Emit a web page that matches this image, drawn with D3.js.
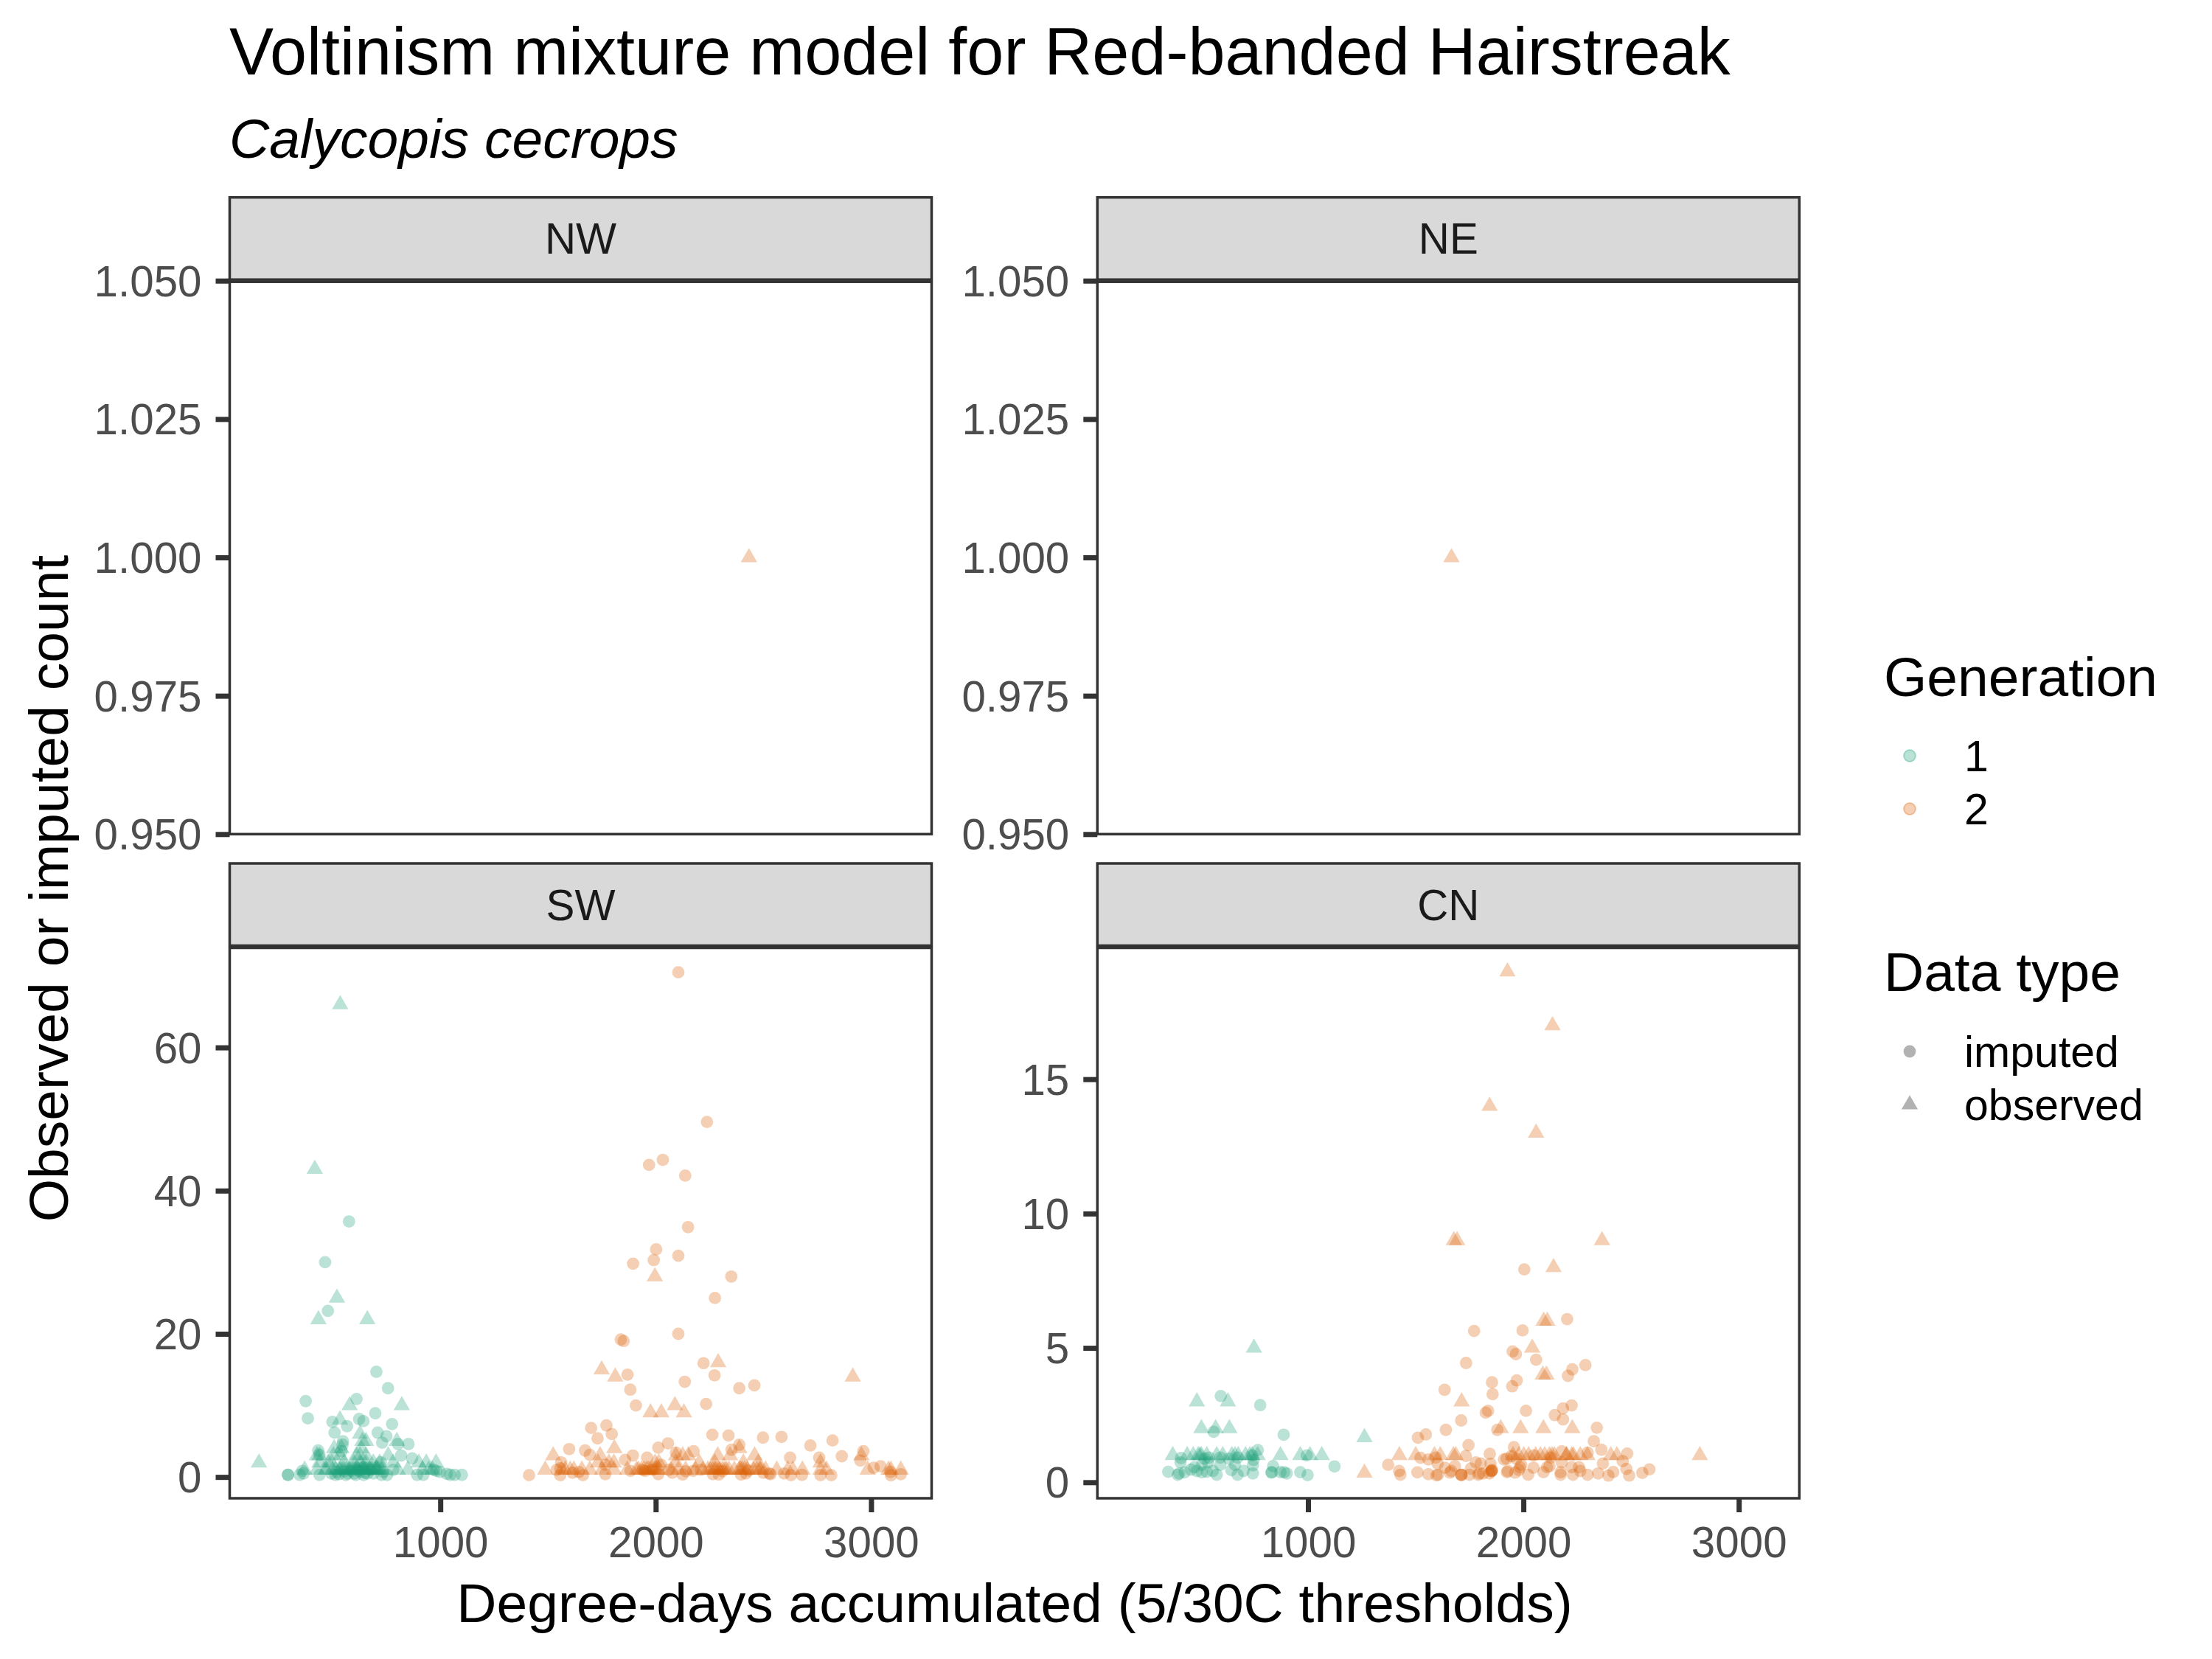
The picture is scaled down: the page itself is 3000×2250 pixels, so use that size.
<!DOCTYPE html>
<html>
<head>
<meta charset="utf-8">
<script src="https://cdn.jsdelivr.net/npm/d3@7"></script>
<style>
  body { margin: 0; background: white; }
  text { font-family: "Liberation Sans", Arial, sans-serif; }
</style>
</head>
<body>
<div id="chart"></div>
<script>
// data: [degree-days, count]
var nwGen2Observed = [[2433, 1]];
var neGen2Observed = [[1666, 1]];

var swGen1Imputed = [[703,14.7],[757,12.4],[375,10.6],[611,10.9],[385,8.2],[698,8.9],[499,7.7],[623,8.1],[643,7.8],[776,7.4],[567,7.1],[509,6.2],[709,6.2],[750,5.7],[730,4.8],[548,5],[852,4.6],[804,4.6],[546,4.5],[433,3.7],[818,3],[439,3.1],[541,3.6],[869,2.6],[724,2.05],[359,.85],[292,.3],[293,.3],[347,.3],[365,.5],[439,.3],[494,.5],[513,.3],[519,.7],[561,.3],[587,.85],[607,.3],[627,.7],[644,.3],[661,.5],[727,.3],[753,.3],[781,1],[892,.3],[921,.3],[981,.85],[998,.7],[1030,.45],[1046,.3],[1067,.3],[1100,.3],[736,.7],[678,1],[644,1.4],[970,1],[576,35.7],[465,30],[478,23.2],[530,.4],[570,.5],[600,.5],[650,.6],[690,.5],[620,.9],[555,.8]];
var swGen1Observed = [[535,66],[417,43],[520,25],[434,22],[661,22],[579,10],[821,10],[534,8],[627,6],[638,5],[655,5],[798,5],[507,4],[541,4],[632,4],[427,3],[504,3],[610,3],[627,3],[655,3],[758,3],[439,3],[536,3],[439,2],[479,2],[496,2],[553,2],[598,2],[627,2],[655,2],[689,2],[718,2],[781,2],[900,2],[935,2],[980,2],[370,1],[427,1],[467,1],[501,1],[536,1],[581,1],[610,1],[632,1],[672,1],[695,1],[712,1],[803,1],[849,1],[917,1],[946,1],[963,1],[513,1],[553,1],[564,1],[598,1],[621,1],[644,1],[655,1],[678,1],[701,1],[724,1],[158,2],[470,1],[530,1],[545,1],[575,1],[590,1],[605,1],[615,1],[640,1],[650,1],[665,1],[685,1],[705,1],[730,1]];
var swGen2Imputed = [[2105,70.5],[2238,49.6],[2033,44.3],[1969,43.6],[2137,42.1],[2150,34.9],[2002,31.8],[1991,30.3],[2105,30.9],[1895,29.8],[2351,28],[2275,25],[2105,20],[1838,19.2],[1851,19],[2222,15.9],[1869,14.3],[2273,14.2],[2135,13.3],[2458,12.8],[2388,12.4],[1882,12.2],[2234,10.2],[1908,10],[1700,6.85],[1771,7.2],[1730,5.4],[1796,6],[2012,4.1],[2057,4.7],[1598,3.9],[1672,3.7],[1694,3.1],[1561,2.05],[2263,5.9],[2094,3.4],[2176,3.6],[1894,3],[1960,2.7],[1858,2.4],[1766,1.7],[1412,.26],[1557,.26],[1614,.6],[1662,.26],[1766,.4],[1883,.85],[1951,.85],[2012,.4],[2077,.6],[2125,.35],[2174,.85],[2265,.4],[2293,.35],[1540,1],[1557,1.2],[1643,.7],[2025,1.7],[2060,1],[2338,5.8],[2498,5.5],[2584,5.6],[2718,4.4],[2821,5.1],[2388,4.5],[2352,3.8],[2624,2.7],[2759,2.7],[2864,2.9],[2964,3.6],[2950,2.3],[3012,1.3],[3044,1.5],[3090,.7],[3138,.4],[3092,.25],[2765,.26],[2815,.26],[2679,.3],[2628,.26],[2596,.5],[2533,.4],[2527,.5],[2499,.6],[2419,.5],[2396,.35],[1940,1],[1985,1],[2140,.8],[2210,1],[2310,.8],[2430,.9]];
var swGen2Observed = [[1996,28],[2290,16],[1749,15],[1812,14],[2915,14],[2089,10],[1976,9],[2026,9],[2131,9],[1808,4],[2388,4],[1524,3],[1742,3],[2094,3],[2125,3],[2151,3],[2288,3],[2345,3],[2459,3],[2955,3],[1732,2],[1783,2],[1806,2],[1997,2],[2014,2],[2094,2],[2202,2],[2274,2],[2407,2],[2476,2],[2765,2],[1487,1],[1563,1],[1580,1],[1603,1],[1620,1],[1657,1],[1694,1],[1751,1],[1806,1],[1868,1],[1911,1],[1934,1],[1957,1],[1974,1],[1997,1],[2014,1],[2071,1],[2105,1],[2139,1],[2185,1],[2219,1],[2242,1],[2253,1],[2265,1],[2274,1],[2299,1],[2310,1],[2328,1],[2365,1],[2388,1],[2402,1],[2413,1],[2453,1],[2470,1],[2482,1],[2487,1],[2510,1],[2562,1],[2613,1],[2636,1],[2681,1],[2765,1],[2793,1],[2984,1],[3081,1],[3092,1],[3138,1],[1920,1],[1945,1],[1965,1],[1985,1],[2005,1],[2280,1],[2292,1],[2320,1],[2340,1],[2395,1],[2425,1]];

var cnGen1Imputed = [[595,3.21],[778,2.87],[562,1.88],[887,1.77],[767,1.2],[994,1],[410,.9],[408,.74],[1123,.59],[838,.6],[351,.39],[395,.28],[402,.33],[427,.37],[473,.56],[456,.47],[484,.42],[507,.37],[507,.65],[536,.74],[530,.39],[558,.42],[576,.28],[593,.65],[633,.88],[644,.45],[661,.65],[673,.28],[701,.42],[744,.33],[744,.63],[747,.83],[541,.92],[519,.88],[593,.92],[673,.92],[741,1],[830,.36],[832,.375],[872,.375],[889,.375],[901,.33],[964,.375],[998,.27]];
var cnGen1Observed = [[749,5],[484,3],[628,3],[505,2],[571,2],[635,2],[372,1],[439,1],[490,1],[505,1],[530,1],[576,1],[604,1],[646,1],[661,1],[676,1],[710,1],[730,1],[741,1],[766,1],[872,1],[964,1],[1009,1],[1064,1],[498,1],[467,1],[1262,1.67]];
var cnGen2Imputed = [[2004,7.92],[2203,6.07],[1771,5.63],[1996,5.65],[1950,4.87],[1965,4.77],[2059,4.56],[1734,4.44],[2288,4.36],[2227,4.2],[2207,3.96],[1969,3.79],[1948,3.57],[1854,3.72],[1634,3.44],[1857,3.28],[1836,2.66],[1825,2.59],[2012,2.66],[2224,2.86],[2184,2.75],[2146,2.5],[2184,2.34],[1711,2.3],[1879,1.95],[1640,1.95],[1547,1.78],[1510,1.66],[1745,1.38],[1956,1.31],[1733,.98],[1844,1.06],[2178,1.15],[2341,2.03],[2327,1.53],[1372,.65],[1423,.42],[1429,.28],[1508,.37],[1559,.3],[1596,.26],[1604,.28],[1522,.91],[1559,.85],[1593,.92],[1602,.69],[1636,.54],[1665,.42],[1659,.36],[1682,.6],[1711,.28],[1712,.27],[1713,.28],[1750,.28],[1756,.51],[1779,.74],[1802,.7],[1790,.28],[1796,.33],[1813,.33],[1842,.33],[1851,.42],[1851,.41],[1853,.43],[1855,.46],[1847,.69],[1910,.85],[1924,.375],[1927,.42],[1962,.36],[1979,.46],[1984,.56],[1990,.65],[2022,.28],[2047,.54],[2093,.375],[2110,.56],[2121,.6],[2173,.28],[2173,.375],[2178,.74],[2230,.28],[2224,.56],[2258,.56],[2264,.42],[2298,.28],[1922,.88],[1944,.97],[1967,.88],[2047,1],[2127,.92],[2298,1.1],[2362,1.21],[2482,1.07],[2461,.79],[2369,.7],[2478,.5],[2585,.48],[2552,.35],[2491,.25],[2417,.38],[2395,.25],[2347,.33]];
var cnGen2Observed = [[1926,19],[2135,17],[1843,14],[2059,13],[1677,9],[1692,9],[2365,9],[2140,8],[2094,6],[2111,6],[2041,5],[2090,4],[2107,4],[1713,3],[1895,2],[1987,2],[2093,2],[2227,2],[1262,.35],[2819,1],[1424,1],[1500,1],[1587,1],[1614,1],[1675,1],[1686,1],[1952,1],[1979,1],[2002,1],[2024,1],[2057,1],[2079,1],[2099,1],[2121,1],[2133,1],[2144,1],[2199,1],[2201,1],[2224,1],[2232,1],[2264,1],[2297,1],[2406,1],[2434,1]];

var xTicks = [1000, 2000, 3000];
var yTicksTop = [0.95, 0.975, 1, 1.025, 1.05];
var yTicksSW = [0, 20, 40, 60];
var yTicksCN = [0, 5, 10, 15];
var generationLabels = ["1", "2"];
var typeLabels = ["imputed", "observed"];

// setup
var w = 3000;
var h = 2250;
var colors = ["#1B9E77", "#D95F02"];
var alpha = 0.3;
var ink = "#333333";
var tickLen = 19;

var svg = d3.select("#chart").append("svg")
    .attr("width", w)
    .attr("height", h)
    .attr("viewBox", "0 0 " + w + " " + h)
    .style("display", "block")
    .style("background", "white");

var triangle = d3.symbol().type(d3.symbolTriangle).size(215);

var x0 = 311.5, x1 = 1488.3, pw = 952;

var panels = [
  {name: "NW", left: x0, strip: 267.7, top: 380.7, bottom: 1131.3, domain: [0.95, 1.05], ticks: yTicksTop, fmt: d3.format(".3f"), xaxis: false,
    series: [[nwGen2Observed, 1, "t"]]},
  {name: "NE", left: x1, strip: 267.7, top: 380.7, bottom: 1131.3, domain: [0.95, 1.05], ticks: yTicksTop, fmt: d3.format(".3f"), xaxis: false,
    series: [[neGen2Observed, 1, "t"]]},
  {name: "SW", left: x0, strip: 1171, top: 1284, bottom: 2032, domain: [-2.97, 74.07], ticks: yTicksSW, fmt: d3.format("d"), xaxis: true,
    series: [[swGen1Imputed, 0, "c"], [swGen1Observed, 0, "t"], [swGen2Imputed, 1, "c"], [swGen2Observed, 1, "t"]]},
  {name: "CN", left: x1, strip: 1171, top: 1284, bottom: 2032, domain: [-0.595, 19.93], ticks: yTicksCN, fmt: d3.format("d"), xaxis: true,
    series: [[cnGen1Imputed, 0, "c"], [cnGen1Observed, 0, "t"], [cnGen2Imputed, 1, "c"], [cnGen2Observed, 1, "t"]]}
];

panels.forEach(function(p) {
  var x = d3.scaleLinear().domain([22, 3281]).range([p.left, p.left + pw]);
  var y = d3.scaleLinear().domain(p.domain).range([p.bottom, p.top]);
  var g = svg.append("g").attr("class", "panel");

  // points
  p.series.forEach(function(s) {
    var marks = g.append("g").attr("fill", colors[s[1]]).attr("fill-opacity", alpha);
    if (s[2] == "c") {
      marks.selectAll("circle").data(s[0]).join("circle")
        .attr("cx", function(d) { return x(d[0]); })
        .attr("cy", function(d) { return y(d[1]); })
        .attr("r", 8.4);
    } else {
      marks.selectAll("path").data(s[0]).join("path")
        .attr("d", triangle)
        .attr("transform", function(d) { return "translate(" + x(d[0]) + "," + y(d[1]) + ")"; });
    }
  });

  // strip and border
  g.append("rect")
    .attr("x", p.left).attr("y", p.strip)
    .attr("width", pw).attr("height", p.top - p.strip - 1.5)
    .attr("fill", "#D9D9D9").attr("stroke", ink).attr("stroke-width", 3.5);
  g.append("text")
    .attr("x", p.left + pw / 2)
    .attr("y", (p.strip + p.top) / 2 + 20)
    .attr("text-anchor", "middle")
    .attr("font-size", 58.3)
    .attr("fill", "#1A1A1A")
    .text(p.name);
  g.append("rect")
    .attr("x", p.left).attr("y", p.top + 1.5)
    .attr("width", pw).attr("height", p.bottom - p.top - 1.5)
    .attr("fill", "none").attr("stroke", ink).attr("stroke-width", 3.5);

  // axes
  var ya = g.append("g")
    .attr("transform", "translate(" + p.left + ",0)")
    .call(d3.axisLeft(y).tickValues(p.ticks).tickFormat(p.fmt).tickSize(tickLen).tickPadding(19));
  styleAxis(ya);
  ya.selectAll("text").attr("dy", "0.35em");
  if (p.xaxis) {
    var xa = g.append("g")
      .attr("transform", "translate(0," + p.bottom + ")")
      .call(d3.axisBottom(x).tickValues(xTicks).tickFormat(d3.format("d")).tickSize(tickLen).tickPadding(20));
    styleAxis(xa);
  }
});

function styleAxis(a) {
  a.select(".domain").remove();
  a.selectAll("line").attr("stroke", ink).attr("stroke-width", 7);
  a.selectAll("text")
    .attr("fill", "#4D4D4D")
    .attr("font-size", 58.3)
    .style("font-family", '"Liberation Sans", Arial, sans-serif');
}

// titles
svg.append("text").attr("x", 311).attr("y", 101).attr("font-size", 90).attr("fill", "black")
  .text("Voltinism mixture model for Red-banded Hairstreak");
svg.append("text").attr("x", 311).attr("y", 214).attr("font-size", 75).attr("font-style", "italic").attr("fill", "black")
  .text("Calycopis cecrops");
svg.append("text").attr("x", 1376).attr("y", 2200).attr("text-anchor", "middle").attr("font-size", 75).attr("fill", "black")
  .text("Degree-days accumulated (5/30C thresholds)");
svg.append("text").attr("text-anchor", "middle").attr("font-size", 75).attr("fill", "black")
  .attr("transform", "translate(92,1205) rotate(-90)")
  .text("Observed or imputed count");

// legends
var lx = 2555, kx = 2590, tx = 2664;
svg.append("text").attr("x", lx).attr("y", 943.5).attr("font-size", 75).text("Generation");
svg.append("text").attr("x", lx).attr("y", 1344).attr("font-size", 75).text("Data type");

var genY = d3.scalePoint().domain(generationLabels).range([1025, 1097]);
var typeY = d3.scalePoint().domain(typeLabels).range([1426, 1498]);

generationLabels.forEach(function(d, i) {
  svg.append("circle").attr("cx", kx).attr("cy", genY(d)).attr("r", 8)
    .attr("fill", colors[i]).attr("fill-opacity", alpha)
    .attr("stroke", colors[i]).attr("stroke-opacity", alpha).attr("stroke-width", 2);
  svg.append("text").attr("x", tx).attr("y", genY(d) + 21).attr("font-size", 59).text(d);
});
svg.append("circle").attr("cx", kx).attr("cy", typeY("imputed")).attr("r", 8.4).attr("fill", "black").attr("fill-opacity", alpha);
svg.append("path").attr("d", triangle).attr("fill", "black").attr("fill-opacity", alpha)
  .attr("transform", "translate(" + kx + "," + typeY("observed") + ")");
typeLabels.forEach(function(d) {
  svg.append("text").attr("x", tx).attr("y", typeY(d) + 21).attr("font-size", 59).text(d);
});
</script>
</body>
</html>
